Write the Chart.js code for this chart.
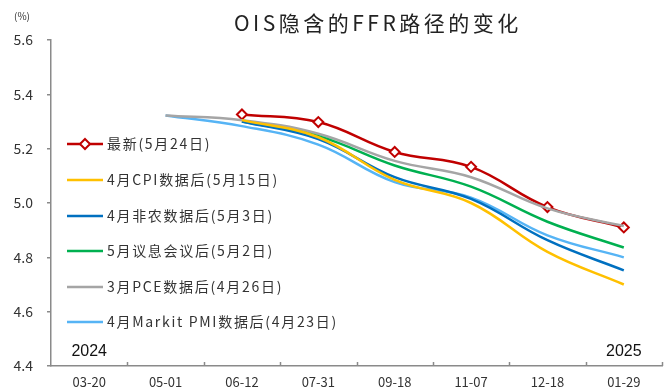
<!DOCTYPE html>
<html>
<head>
<meta charset="utf-8">
<script src="https://cdn.jsdelivr.net/npm/chart.js@4"></script>
<style>
    body { margin: 0; background: #fff; }
    #wrap { width: 672px; height: 389px; }
</style>
</head>
<body>
<div id="wrap"><canvas id="oisChart" width="672" height="389"></canvas></div>
<script>
    // 会议日期 (2024-03-20 ~ 2025-01-29)
    const meetings = ['03-20', '05-01', '06-12', '07-31', '09-18', '11-07', '12-18', '01-29'];
    const years = ['2024', '2025'];

    // 各时点OIS隐含的FFR (%)
    const latest = [null, null, 5.326, 5.298, 5.188, 5.133, 4.985, 4.910];
    const afterCpi = [null, null, 5.305, 5.242, 5.085, 5.000, 4.820, 4.700];
    const afterNfp = [null, null, 5.300, 5.235, 5.095, 5.015, 4.863, 4.752];
    const afterFomc = [null, null, 5.300, 5.246, 5.138, 5.060, 4.931, 4.836];
    const afterPce = [null, 5.322, 5.305, 5.255, 5.155, 5.095, 4.980, 4.915];
    const afterPmi = [null, 5.322, 5.283, 5.215, 5.077, 5.020, 4.881, 4.800];

    const yTicks = [4.4, 4.6, 4.8, 5.0, 5.2, 5.4, 5.6];

    const axisColor = '#8a8a8a';
    const cjkFont = '"Noto Sans CJK SC", "Noto Sans", sans-serif';

    // 标题、单位、年份、x轴内刻度和图例
    const decorPlugin = {
        id: 'decor',
        afterDraw(chart) {
            const ctx = chart.ctx;
            const xs = chart.scales.x;
            const area = chart.chartArea;
            ctx.save();

            ctx.fillStyle = '#222';
            ctx.textAlign = 'left';
            ctx.textBaseline = 'middle';
            ctx.font = '21px ' + cjkFont;
            ctx.letterSpacing = '3.5px';
            ctx.fillText('OIS隐含的FFR路径的变化', 234, 23);
            ctx.letterSpacing = '0px';

            ctx.textAlign = 'center';
            ctx.font = '10px ' + cjkFont;
            ctx.fillStyle = '#333';
            ctx.fillText('(%)', 22, 16);

            ctx.font = '16px "Liberation Sans", sans-serif';
            ctx.fillStyle = '#111';
            ctx.fillText(years[0], xs.getPixelForValue(0), 352);
            ctx.fillText(years[1], xs.getPixelForValue(meetings.length - 1), 352);

            // x轴刻度朝上
            ctx.strokeStyle = axisColor;
            ctx.lineWidth = 1.5;
            for (let i = 1; i <= meetings.length; i++) {
                const x = Math.round(xs.getPixelForValue(i - 0.5)) + 0.5;
                ctx.beginPath();
                ctx.moveTo(x, area.bottom);
                ctx.lineTo(x, area.bottom - 4);
                ctx.stroke();
            }

            // 图例
            const rowY = [144, 180, 216, 251, 287, 322];
            ctx.textAlign = 'left';
            ctx.font = '14px ' + cjkFont;
            ctx.letterSpacing = '1.7px';
            chart.data.datasets.forEach((ds, i) => {
                const y = rowY[i];
                ctx.strokeStyle = ds.borderColor;
                ctx.lineWidth = 2.5;
                ctx.beginPath();
                ctx.moveTo(67, y);
                ctx.lineTo(103, y);
                ctx.stroke();
                if (ds.pointRadius > 0) {
                    ctx.fillStyle = '#fff';
                    ctx.lineWidth = 2;
                    ctx.beginPath();
                    ctx.moveTo(85, y - 5);
                    ctx.lineTo(90, y);
                    ctx.lineTo(85, y + 5);
                    ctx.lineTo(80, y);
                    ctx.closePath();
                    ctx.fill();
                    ctx.stroke();
                }
                ctx.fillStyle = '#333';
                ctx.fillText(ds.label, 107, y);
            });
            ctx.restore();
        }
    };

    function lineSet(label, data, color, extra) {
        return Object.assign({
            label: label,
            data: data,
            borderColor: color,
            backgroundColor: color,
            borderWidth: 2.5,
            pointRadius: 0,
            tension: 0.4,
            fill: false
        }, extra || {});
    }

    const ctxOis = document.getElementById('oisChart');
    if (ctxOis) {
        new Chart(ctxOis.getContext('2d'), {
            type: 'line',
            data: {
                labels: meetings,
                datasets: [
                    lineSet('最新(5月24日)', latest, '#c00000', {
                        pointRadius: 5,
                        pointStyle: 'rectRot',
                        pointBackgroundColor: '#fff',
                        pointBorderColor: '#c00000',
                        pointBorderWidth: 2,
                        order: 1
                    }),
                    lineSet('4月CPI数据后(5月15日)', afterCpi, '#ffc000'),
                    lineSet('4月非农数据后(5月3日)', afterNfp, '#0070c0'),
                    lineSet('5月议息会议后(5月2日)', afterFomc, '#00b050'),
                    lineSet('3月PCE数据后(4月26日)', afterPce, '#a5a5a5'),
                    lineSet('4月Markit PMI数据后(4月23日)', afterPmi, '#56b4f5')
                ]
            },
            options: {
                responsive: false,
                animation: false,
                layout: { padding: { top: 40, right: 10, left: 0, bottom: 0 } },
                plugins: {
                    legend: { display: false },
                    tooltip: { enabled: false },
                    title: { display: false }
                },
                scales: {
                    x: {
                        offset: true,
                        grid: { display: false, drawTicks: false },
                        border: { display: true, color: axisColor, width: 1.5 },
                        ticks: {
                            padding: 8,
                            color: '#333',
                            font: { family: cjkFont, size: 13 },
                            maxRotation: 0
                        },
                        afterFit(scale) { scale.height = 23; }
                    },
                    y: {
                        min: yTicks[0],
                        max: yTicks[yTicks.length - 1],
                        afterBuildTicks(scale) {
                            scale.ticks = yTicks.map(v => ({ value: v }));
                        },
                        grid: {
                            drawOnChartArea: false,
                            drawTicks: true,
                            tickLength: 4,
                            color: axisColor,
                            lineWidth: 1.5
                        },
                        border: { display: true, color: axisColor, width: 1.5 },
                        ticks: {
                            padding: 14,
                            color: '#333',
                            font: { family: cjkFont, size: 14 },
                            callback: v => v.toFixed(1)
                        },
                        afterFit(scale) { scale.width = 51; }
                    }
                }
            },
            plugins: [decorPlugin]
        });
    }
</script>
</body>
</html>
